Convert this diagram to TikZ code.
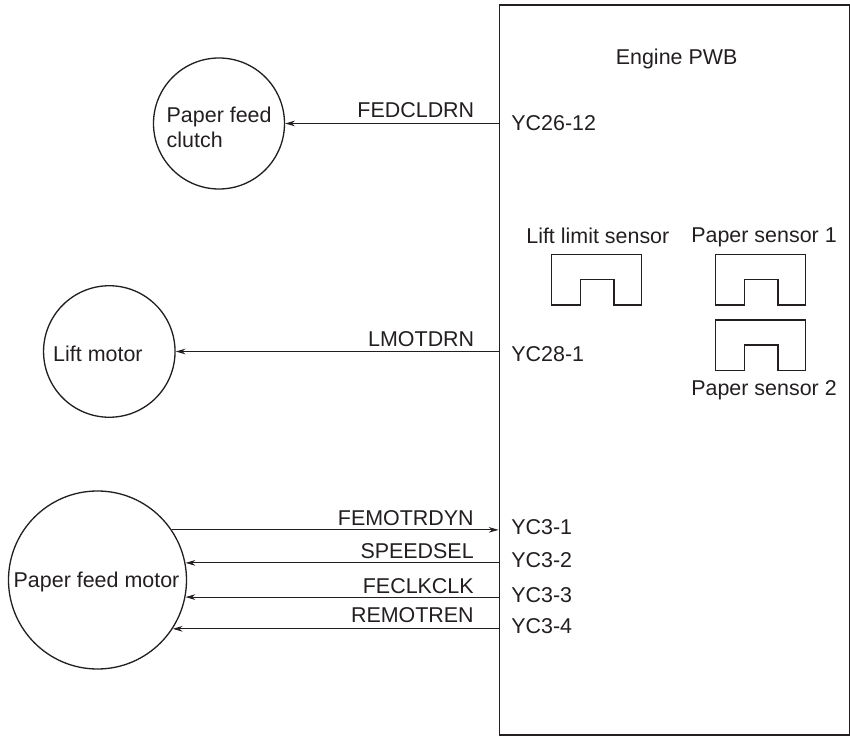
\documentclass[tikz,border=0pt]{standalone}
\usepackage{fontspec}
\setmainfont{Liberation Sans}
\usetikzlibrary{arrows.meta,positioning,calc}
\definecolor{inkc}{HTML}{231F20}

\begin{document}
\begin{tikzpicture}[
  color=inkc,
  board/.style={rectangle, draw, line width=0.85pt, minimum width=7.01cm,
    minimum height=14.6cm, inner sep=0pt},
  unit/.style={circle, draw, line width=0.75pt, inner sep=0pt},
  txt/.style={font=\fontsize{12.2}{14.2}\selectfont, inner sep=0pt},
  arr/.style={-{Stealth[length=5.6pt,width=3.2pt]}, line width=0.55pt},
  sensor/.pic={
    \draw[line width=0.75pt] (0,0) -- (0,1.01) -- (1.8,1.01) -- (1.8,0) -- (1.25,0)
      -- (1.25,0.51) -- (0.58,0.51) -- (0.58,0) -- cycle;
  },
]
\useasboundingbox (0,0) rectangle (17,14.72);

\node[board] (pwb) at (13.491,7.32) {};
\node[txt, anchor=base west] (pwbname) at (12.31,13.42) {Engine PWB};

\node[unit, minimum size=2.62cm] (clutch) at (4.38,12.25) {};
\node[unit, minimum size=2.63cm] (lift)   at (2.186,7.69) {};
\node[unit, minimum size=3.56cm] (feed)   at (1.95,3.12)  {};

\node[txt, anchor=base west] (clutchname1) at ($(clutch.west)+(0.27,0.025)$) {Paper feed};
\node[txt, below=0.5cm of clutchname1.base west, anchor=base west] (clutchname2) {clutch};
\node[txt, anchor=base west] (liftname) at ($(lift.west)+(0.2,-0.2)$) {Lift motor};
\node[txt, anchor=base west] (feedname) at ($(feed.west)+(0.11,-0.16)$) {Paper feed motor};

% ports on the board edge
\coordinate (pclutch) at (clutch.east -| pwb.west);
\coordinate (plift)   at (lift.east -| pwb.west);
\coordinate (p1) at (feed.34 -| pwb.west);
\coordinate (p2) at (feed.11 -| pwb.west);
\coordinate (p3) at (feed.-11 -| pwb.west);
\coordinate (p4) at (feed.-33.5 -| pwb.west);

\draw[arr] (pclutch) -- (clutch.east);
\draw[arr] (plift)   -- (lift.east);
\draw[arr] (feed.34) -- (p1);
\draw[arr] (p2) -- (feed.11);
\draw[arr] (p3) -- (feed.-11);
\draw[arr] (p4) -- (feed.-33.5);

\node[txt, anchor=base east] (sclutch) at ($(pclutch)+(-0.48,0.11)$) {FEDCLDRN};
\node[txt, anchor=base east] (slift)   at ($(plift)+(-0.48,0.1)$)    {LMOTDRN};
\node[txt, anchor=base east] (s1) at ($(p1)+(-0.49,0.09)$) {FEMOTRDYN};
\node[txt, anchor=base east] (s2) at ($(p2)+(-0.49,0.08)$) {SPEEDSEL};
\node[txt, anchor=base east] (s3) at ($(p3)+(-0.49,0.08)$) {FECLKCLK};
\node[txt, anchor=base east] (s4) at ($(p4)+(-0.49,0.12)$) {REMOTREN};

\node[txt, anchor=base west] (yclutch) at ($(pclutch)+(0.25,-0.15)$) {YC26-12};
\node[txt, anchor=base west] (ylift)   at ($(plift)+(0.25,-0.2)$)    {YC28-1};
\node[txt, anchor=base west] (y1) at ($(p1)+(0.25,-0.1)$) {YC3-1};
\node[txt, anchor=base west] (y2) at ($(p2)+(0.25,-0.1)$) {YC3-2};
\node[txt, anchor=base west] (y3) at ($(p3)+(0.25,-0.1)$) {YC3-3};
\node[txt, anchor=base west] (y4) at ($(p4)+(0.25,-0.1)$) {YC3-4};

\pic at (11.03,8.62) {sensor};
\pic at (14.31,8.62) {sensor};
\pic at (14.31,7.31) {sensor};
\node[txt, anchor=base west] (limit) at (10.52,9.84) {Lift limit sensor};
\node[txt, anchor=base west] (ps1)   at (13.82,9.86) {Paper sensor 1};
\node[txt, anchor=base west] (ps2)   at (13.82,6.81) {Paper sensor 2};
\end{tikzpicture}
\end{document}
